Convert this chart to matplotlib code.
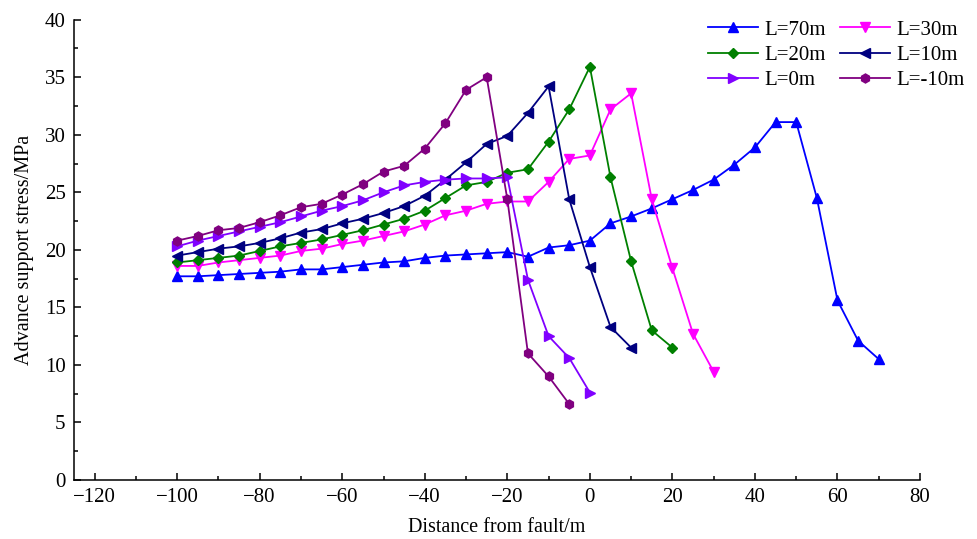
import numpy as np
from matplotlib import pyplot as plt
from matplotlib.ticker import MultipleLocator

plt.rcParams['font.family'] = ['Liberation Serif', 'DejaVu Serif']
plt.rcParams['mathtext.fontset'] = 'stix'

## Advance support stress (MPa) along distance from fault, one series per L
x_70 = np.arange(-100, 71, 5)
y_70 = [17.7, 17.7, 17.8, 17.9, 18.0, 18.1, 18.3, 18.3, 18.5, 18.7, 18.9, 19.0,
        19.3, 19.5, 19.6, 19.7, 19.8, 19.4, 20.2, 20.4, 20.8, 22.3, 22.9, 23.6,
        24.4, 25.2, 26.1, 27.4, 28.9, 31.1, 31.1, 24.5, 15.6, 12.1, 10.5]

x_30 = np.arange(-100, 31, 5)
y_30 = [18.6, 18.6, 18.9, 19.1, 19.3, 19.5, 19.9, 20.1, 20.5, 20.8, 21.2, 21.6,
        22.2, 23.0, 23.4, 24.0, 24.2, 24.2, 25.9, 27.9, 28.2, 32.2, 33.6, 24.4,
        18.4, 12.7, 9.4]

x_20 = np.arange(-100, 21, 5)
y_20 = [18.9, 19.1, 19.3, 19.5, 19.9, 20.3, 20.6, 20.9, 21.3, 21.7, 22.2, 22.7,
        23.4, 24.5, 25.6, 25.9, 26.7, 27.0, 29.4, 32.2, 35.9, 26.3, 19.0, 13.0,
        11.5]

x_10 = np.arange(-100, 11, 5)
y_10 = [19.5, 19.8, 20.1, 20.3, 20.6, 21.0, 21.5, 21.8, 22.3, 22.7, 23.2, 23.8,
        24.7, 26.1, 27.6, 29.2, 29.9, 31.9, 34.2, 24.4, 18.5, 13.3, 11.5]

x_0 = np.arange(-100, 1, 5)
y_0 = [20.3, 20.8, 21.2, 21.6, 22.0, 22.4, 22.9, 23.4, 23.8, 24.3, 25.0, 25.6,
       25.9, 26.1, 26.2, 26.2, 26.3, 17.4, 12.5, 10.6, 7.6]

x_m10 = np.arange(-100, -4, 5)
y_m10 = [20.8, 21.2, 21.7, 21.9, 22.4, 23.0, 23.7, 24.0, 24.8, 25.7, 26.8, 27.3,
         28.8, 31.0, 33.9, 35.0, 24.4, 11.0, 9.0, 6.6]

fig = plt.figure(figsize=(9.77, 5.39), dpi=100)
ax = fig.add_axes([0.0757, 0.1095, 0.866, 0.854])

kw = dict(lw=1.3, ms=6.5)
h70, = ax.plot(x_70, y_70, color='#0000FF', marker='^', label='L=70m', **kw)
h30, = ax.plot(x_30, y_30, color='#FF00FF', marker='v', label='L=30m', **kw)
h20, = ax.plot(x_20, y_20, color='#008000', marker='D', label='L=20m', lw=1.3, ms=5.5)
h10, = ax.plot(x_10, y_10, color='#000080', marker='<', label='L=10m', **kw)
h0, = ax.plot(x_0, y_0, color='#8000FF', marker='>', label='L=0m', **kw)
hm10, = ax.plot(x_m10, y_m10, color='#800080', marker='h', label='L=-10m', **kw)

ax.set_xlim(-125, 80)
ax.set_ylim(0, 40)
ax.xaxis.set_major_locator(MultipleLocator(20))
ax.xaxis.set_minor_locator(MultipleLocator(10))
ax.yaxis.set_major_locator(MultipleLocator(5))
ax.yaxis.set_minor_locator(MultipleLocator(2.5))
ax.tick_params(which='both', direction='in', labelsize=15, width=1.1)
ax.tick_params(which='major', length=5, pad=6)
ax.tick_params(which='minor', length=3)
ax.spines['top'].set_visible(False)
ax.spines['right'].set_visible(False)
ax.spines['left'].set_linewidth(1.1)
ax.spines['bottom'].set_linewidth(1.1)

ax.set_xlabel('Distance from fault/m', fontsize=14.5, labelpad=8)
ax.set_ylabel('Advance support stress/MPa', fontsize=14.5, labelpad=8)

## two-column legend filled row by row
handles = [h70, h20, h0, h30, h10, hm10]
ax.legend(handles=handles, labels=[h.get_label() for h in handles], ncol=2,
          frameon=False, fontsize=15, loc='upper right',
          bbox_to_anchor=(1.075, 1.04), handlelength=2.4, handletextpad=0.3,
          columnspacing=0.7, labelspacing=0.28)

plt.savefig('out.png', dpi=100)
